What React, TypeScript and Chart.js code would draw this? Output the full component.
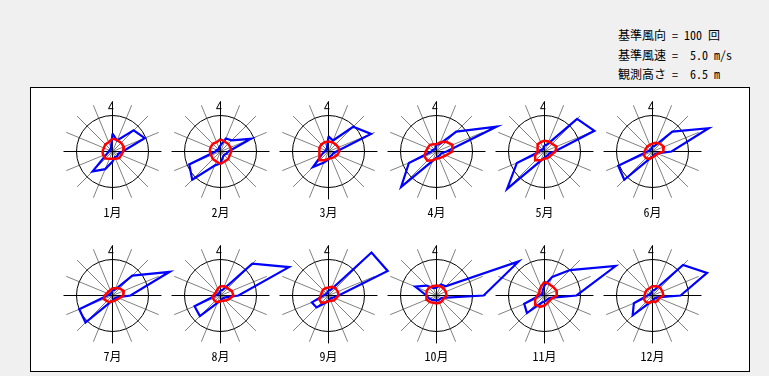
import React, { useEffect, useRef } from "react";
import { Chart, registerables } from "chart.js";
Chart.register(...registerables);

// ---- data ----
const months = ["1月", "2月", "3月", "4月", "5月", "6月", "7月", "8月", "9月", "10月", "11月", "12月"];
const directions = ["N", "NNE", "NE", "ENE", "E", "ESE", "SE", "SSE", "S", "SSW", "SW", "WSW", "W", "WNW", "NW", "NNW"];
const refCount = 100; // 基準風向 (回)
const refSpeed = 5.0; // 基準風速 (m/s)
const obsHeight = 6.5; // 観測高さ (m)

// wind direction frequency (回), per month, 16 directions from N clockwise
const frequency: number[][] = [
  [50, 33, 83, 97, 28, 17, 19, 17, 28, 53, 78, 17, 11, 8, 8, 11],
  [17, 39, 44, 92, 22, 17, 14, 17, 33, 42, 111, 94, 14, 11, 8, 11],
  [42, 33, 97, 128, 22, 14, 14, 14, 22, 33, 61, 19, 11, 8, 8, 11],
  [19, 22, 78, 181, 28, 14, 14, 14, 17, 28, 139, 83, 14, 11, 8, 8],
  [17, 22, 128, 150, 28, 14, 14, 14, 17, 28, 147, 83, 14, 11, 8, 8],
  [14, 17, 78, 169, 53, 14, 11, 11, 14, 22, 111, 103, 14, 8, 8, 8],
  [14, 17, 78, 172, 50, 14, 11, 11, 14, 22, 106, 100, 14, 8, 8, 8],
  [14, 17, 125, 206, 50, 14, 11, 11, 14, 22, 81, 78, 14, 8, 8, 8],
  [14, 17, 169, 178, 28, 14, 11, 11, 14, 22, 47, 50, 14, 8, 8, 8],
  [22, 33, 36, 247, 131, 17, 14, 14, 14, 14, 17, 22, 28, 64, 39, 22],
  [28, 56, 100, 214, 89, 17, 14, 14, 17, 22, 69, 61, 14, 8, 8, 14],
  [14, 17, 120, 164, 78, 14, 11, 11, 14, 22, 78, 56, 14, 8, 8, 8],
];

// mean wind speed (m/s), per month, 16 directions from N clockwise
const speed: number[][] = [
  [1.8, 1.7, 1.7, 1.7, 1.5, 1.3, 1.3, 1.1, 1.0, 1.1, 1.4, 1.4, 1.4, 1.3, 1.4, 1.4],
  [1.7, 1.5, 1.5, 1.5, 1.5, 1.4, 1.5, 1.5, 1.7, 1.5, 1.5, 1.4, 1.5, 1.5, 1.5, 1.4],
  [1.4, 1.4, 1.4, 1.5, 1.5, 1.3, 1.1, 1.0, 1.0, 1.3, 1.7, 1.4, 1.3, 1.3, 1.4, 1.4],
  [1.0, 1.4, 1.9, 2.4, 2.2, 1.4, 1.1, 1.0, 1.0, 1.3, 1.8, 1.8, 1.5, 1.3, 1.3, 1.1],
  [1.5, 1.5, 1.5, 1.8, 1.5, 1.1, 1.0, 1.0, 1.0, 1.3, 1.7, 1.4, 1.0, 1.0, 1.4, 1.4],
  [1.1, 1.3, 1.5, 1.7, 1.5, 0.8, 0.7, 0.7, 0.8, 1.1, 1.3, 1.3, 1.1, 1.0, 1.0, 1.0],
  [1.0, 1.1, 1.4, 1.7, 1.5, 1.0, 0.8, 0.8, 0.8, 1.0, 1.1, 1.3, 1.1, 0.8, 0.8, 0.8],
  [1.3, 1.4, 1.4, 1.7, 1.8, 1.3, 1.0, 0.8, 0.8, 1.0, 1.1, 1.1, 1.0, 0.8, 0.8, 1.0],
  [1.1, 1.3, 1.4, 1.4, 1.4, 1.1, 1.0, 0.8, 0.8, 1.0, 1.4, 1.4, 1.1, 1.0, 1.1, 1.1],
  [1.4, 1.4, 1.4, 1.4, 1.4, 1.1, 1.1, 1.1, 1.1, 1.1, 1.3, 1.5, 1.4, 1.5, 1.5, 1.4],
  [1.9, 1.7, 1.7, 1.8, 1.7, 1.1, 1.0, 1.1, 1.4, 1.7, 1.8, 1.4, 1.0, 0.8, 1.0, 1.3],
  [1.3, 1.4, 1.5, 1.5, 1.5, 1.0, 1.0, 1.0, 0.8, 1.1, 1.3, 1.3, 1.1, 1.1, 1.1, 1.1],
];

// ---- layout (in units of the reference circle radius) ----
const W = 769;
const H = 376;
const UNIT_PX = 36;
const CX0 = 112.5;
const CY0 = 151.5;
const COLS = 6;
const COL_STEP = 3;
const ROW_STEP = 4;
const FONT = '"Noto Sans Mono CJK JP", "Noto Sans CJK JP", "DejaVu Sans Mono", monospace';

function roseCenter(m: number) {
  const c = m % COLS;
  const r = Math.floor(m / COLS);
  return { x: c * COL_STEP, y: -r * ROW_STEP };
}

function polygon(values: number[], ref: number, m: number) {
  const c = roseCenter(m);
  const pts = values.map((v, i) => {
    const a = (i * Math.PI * 2) / directions.length;
    const r = v / ref;
    return { x: c.x + r * Math.sin(a), y: c.y + r * Math.cos(a) };
  });
  pts.push(pts[0]);
  return pts;
}

const roseGrid = {
  id: "roseGrid",
  beforeDatasetsDraw(chart: any) {
    const { ctx } = chart;
    const xs = chart.scales.x;
    const ys = chart.scales.y;
    const unit = xs.getPixelForValue(1) - xs.getPixelForValue(0);
    ctx.save();
    months.forEach((label, m) => {
      const c = roseCenter(m);
      const cx = xs.getPixelForValue(c.x);
      const cy = ys.getPixelForValue(c.y);
      ctx.lineWidth = 1;
      ctx.strokeStyle = "#808080";
      for (let i = 0; i < 16; i++) {
        if (i % 4 === 0) continue;
        const a = (i * Math.PI) / 8;
        const len = unit * 1.39;
        ctx.beginPath();
        ctx.moveTo(cx, cy);
        ctx.lineTo(cx + Math.sin(a) * len, cy - Math.cos(a) * len);
        ctx.stroke();
      }
      ctx.strokeStyle = "#000000";
      ctx.beginPath();
      ctx.arc(cx, cy, unit, 0, Math.PI * 2);
      ctx.stroke();
      ctx.beginPath();
      ctx.moveTo(cx - unit * 1.36, cy);
      ctx.lineTo(cx + unit * 1.36, cy);
      ctx.moveTo(cx, cy - unit * 1.39);
      ctx.lineTo(cx, cy + unit * 1.33);
      ctx.stroke();
      // north marker
      ctx.beginPath();
      ctx.moveTo(cx, cy - unit * 1.39);
      ctx.lineTo(cx - 4, cy - unit * 1.19);
      ctx.lineTo(cx + 1, cy - unit * 1.19);
      ctx.stroke();
      ctx.fillStyle = "#000000";
      ctx.font = `12px ${FONT}`;
      ctx.textAlign = "center";
      ctx.textBaseline = "middle";
      ctx.fillText(label, cx, cy + 61);
    });
    ctx.restore();
  },
};

export default function App() {
  const canvasRef = useRef<HTMLCanvasElement>(null);

  useEffect(() => {
    const canvas = canvasRef.current;
    if (!canvas) return;
    const datasets: any[] = [];
    months.forEach((mName, m) => {
      datasets.push({
        label: `${mName} 風向頻度`,
        data: polygon(frequency[m], refCount, m),
        borderColor: "#0000ff",
        borderWidth: 2.2,
        borderJoinStyle: "miter",
        showLine: true,
        pointRadius: 0,
        fill: false,
        tension: 0,
        clip: false,
        order: 2,
      });
      datasets.push({
        label: `${mName} 平均風速`,
        data: polygon(speed[m], refSpeed, m),
        borderColor: "#ff0000",
        borderWidth: 2.5,
        borderJoinStyle: "miter",
        showLine: true,
        pointRadius: 0,
        fill: false,
        tension: 0,
        clip: false,
        order: 1,
      });
    });

    const chart = new Chart(canvas, {
      type: "scatter",
      data: { datasets },
      options: {
        animation: false,
        responsive: false,
        maintainAspectRatio: false,
        devicePixelRatio: 1,
        events: [],
        layout: { padding: 0 },
        plugins: { legend: { display: false }, tooltip: { enabled: false }, title: { display: false } },
        scales: {
          x: { type: "linear", display: false, min: -CX0 / UNIT_PX, max: (W - CX0) / UNIT_PX },
          y: { type: "linear", display: false, min: -(H - CY0) / UNIT_PX, max: CY0 / UNIT_PX },
        },
      },
      plugins: [roseGrid],
    });
    return () => chart.destroy();
  }, []);

  const textStyle: React.CSSProperties = {
    position: "absolute",
    left: 618,
    fontFamily: FONT,
    fontSize: 12,
    lineHeight: "12px",
    whiteSpace: "pre",
    color: "#000",
  };

  return (
    <div style={{ position: "absolute", left: 0, top: 0, width: W, height: H, background: "#f0f0f0", overflow: "hidden" }}>
      <div style={{ ...textStyle, top: 29 }}>{`基準風向 = ${refCount} 回`}</div>
      <div style={{ ...textStyle, top: 49 }}>{`基準風速 =  ${refSpeed.toFixed(1)} m/s`}</div>
      <div style={{ ...textStyle, top: 68 }}>{`観測高さ =  ${obsHeight.toFixed(1)} m`}</div>
      <div
        style={{
          position: "absolute",
          left: 30,
          top: 87,
          width: 720,
          height: 285,
          boxSizing: "border-box",
          border: "1px solid #000",
          background: "#ffffff",
        }}
      />
      <canvas ref={canvasRef} width={W} height={H} style={{ position: "absolute", left: 0, top: 0, width: W, height: H }} />
    </div>
  );
}
